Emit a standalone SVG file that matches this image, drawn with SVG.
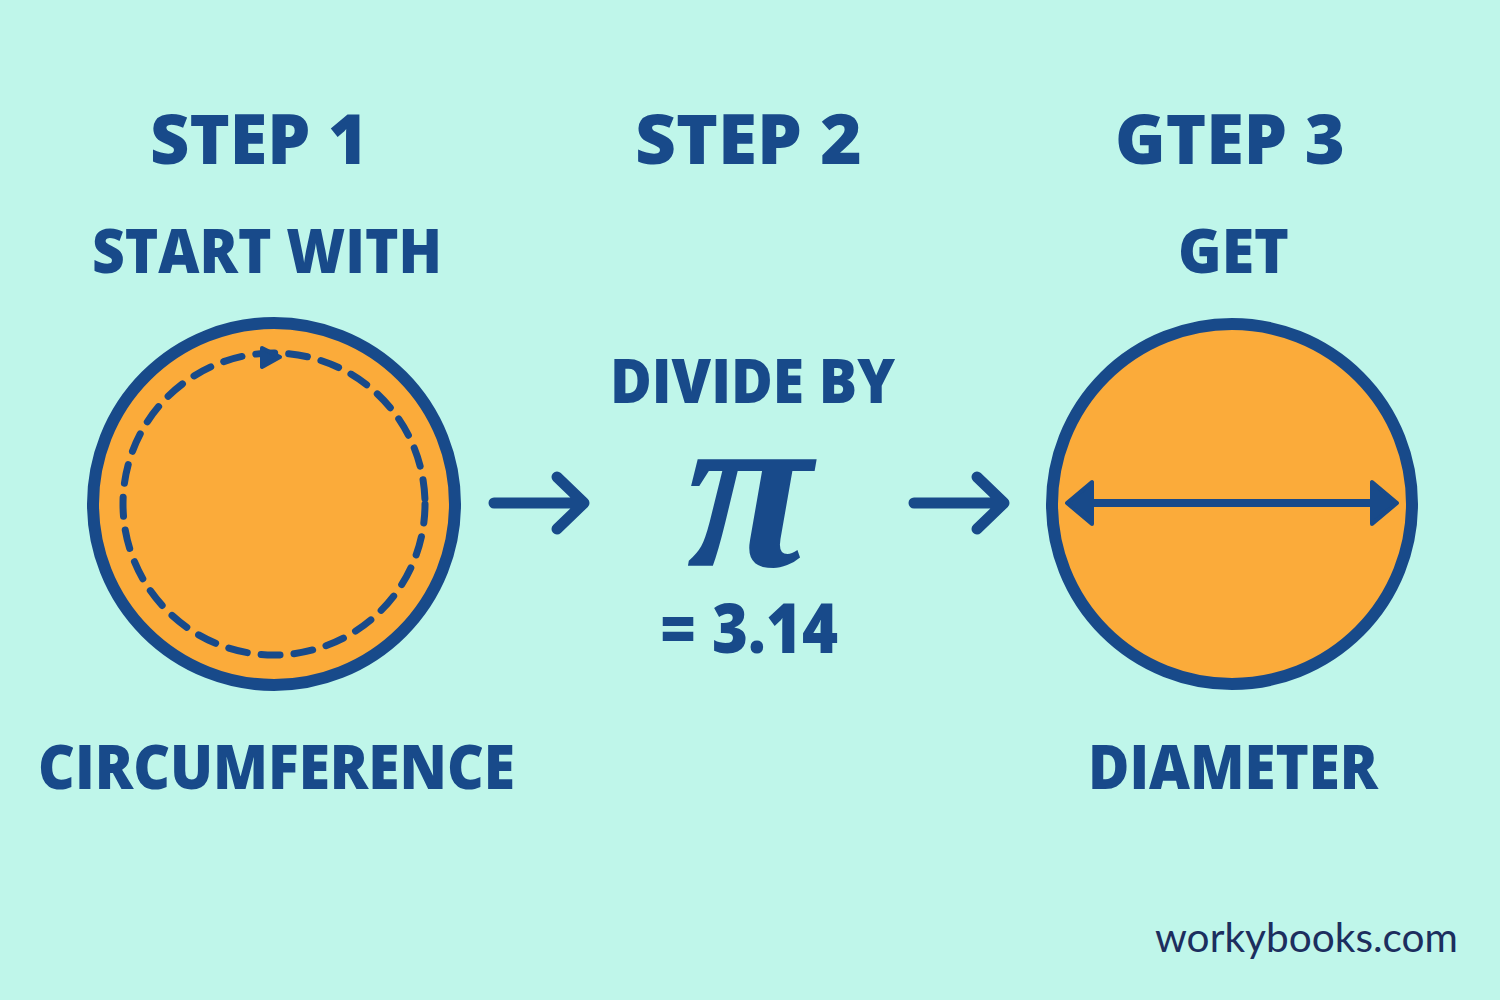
<svg xmlns="http://www.w3.org/2000/svg" width="1500" height="1000" viewBox="0 0 1500 1000">
<style>
.t{font-family:"Open Sans","Liberation Sans",sans-serif;font-weight:800;fill:#184a8a}
.h{font-size:69px}
.s{font-size:62px}
.ln{fill:none;stroke:#184a8a;stroke-linecap:round;stroke-linejoin:round}
</style>
<rect width="1500" height="1000" fill="#bff6ea"/>
<g id="step1">
<text class="t h" x="150" y="164" textLength="218" lengthAdjust="spacingAndGlyphs">STEP 1</text>
<text class="t s" x="92" y="273" textLength="350" lengthAdjust="spacingAndGlyphs">START WITH</text>
<circle cx="274" cy="504" r="181" fill="#fbab3a" stroke="#184a8a" stroke-width="12"/>
<circle cx="274" cy="504" r="151" class="ln" stroke-width="7" stroke-dasharray="19 14"/>
<path d="M262 348 L280 357 L262 367 Z" fill="#184a8a" stroke="#184a8a" stroke-width="4" stroke-linejoin="round"/>
<text class="t s" x="38" y="789" textLength="477" lengthAdjust="spacingAndGlyphs">CIRCUMFERENCE</text>
</g>
<g id="step2">
<text class="t h" x="635" y="164" textLength="227" lengthAdjust="spacingAndGlyphs">STEP 2</text>
<text class="t s" x="610" y="403" textLength="285" lengthAdjust="spacingAndGlyphs">DIVIDE BY</text>
<text x="749" y="566" style="font-family:'Liberation Serif',serif;font-weight:bold;font-style:italic;font-size:230px;fill:#184a8a;text-anchor:middle">π</text>
<text class="t h" x="660" y="653" textLength="178" lengthAdjust="spacingAndGlyphs">= 3.14</text>
</g>
<g id="step3">
<text class="t h" x="1115" y="164" textLength="230" lengthAdjust="spacingAndGlyphs">GTEP 3</text>
<text class="t s" x="1178" y="273" textLength="111" lengthAdjust="spacingAndGlyphs">GET</text>
<circle cx="1232" cy="504" r="180" fill="#fbab3a" stroke="#184a8a" stroke-width="12"/>
<line x1="1080" y1="503" x2="1384" y2="503" class="ln" stroke-width="8"/>
<path d="M1067 503 L1092 482 L1092 524 Z M1397 503 L1372 482 L1372 524 Z" fill="#184a8a" stroke="#184a8a" stroke-width="4" stroke-linejoin="round"/>
<text class="t s" x="1088" y="789" textLength="290" lengthAdjust="spacingAndGlyphs">DIAMETER</text>
</g>
<g id="connectors">
<path d="M494 503 H582 M557 477 L584 503 L557 529" class="ln" stroke-width="11"/>
<path d="M914 503 H1002 M977 477 L1004 503 L977 529" class="ln" stroke-width="11"/>
</g>
<text x="1155" y="952" textLength="303" lengthAdjust="spacingAndGlyphs" style="font-family:'Lato','Liberation Sans',sans-serif;font-size:40px;fill:#1c2e5e">workybooks.com</text>
</svg>
